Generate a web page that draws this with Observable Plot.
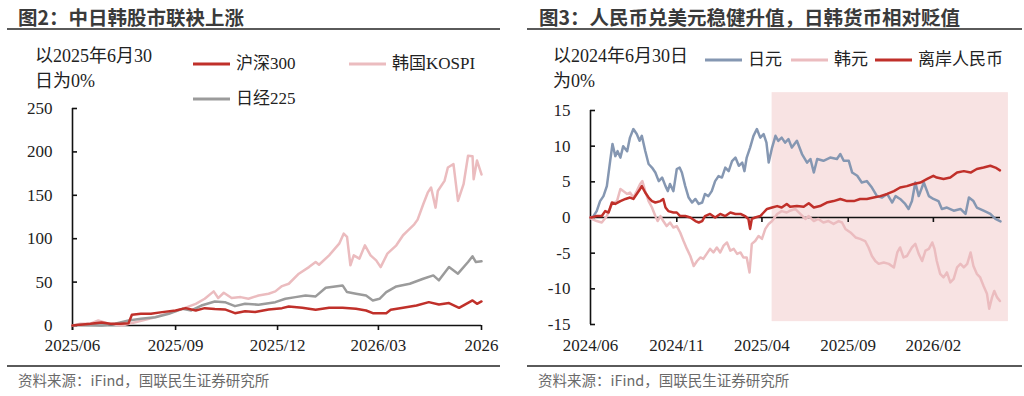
<!DOCTYPE html>
<html>
<head>
<meta charset="utf-8">
<script src="https://cdn.jsdelivr.net/npm/d3@7"></script>
<script src="https://cdn.jsdelivr.net/npm/@observablehq/plot@0.6"></script>
<style>
  html, body { margin: 0; padding: 0; background: #fff; }
  body { position: relative; width: 1024px; height: 396px; overflow: hidden;
         font-family: "Liberation Serif", "Noto Sans CJK SC", serif; color: #222; }
  .title { position: absolute; top: 7px; font: bold 19.5px/19.5px "Noto Sans CJK SC", sans-serif;
           color: #3a3a3a; white-space: nowrap; }
  .rule { position: absolute; height: 2px; background: #5a5a5a; }
  .src { position: absolute; top: 372px; font: 14.5px/15px "Noto Sans CJK SC", sans-serif;
         color: #6a6a6a; white-space: nowrap; }
  .unit { position: absolute; top: 44px; font-size: 18px; line-height: 25px; white-space: nowrap; }
  .leg { position: absolute; display: flex; align-items: center; font-size: 17px;
         line-height: 20px; white-space: nowrap; }
  .leg svg { margin-right: 6px; }
  .plot { position: absolute; top: 100px; }
</style>
</head>
<body>
<div class="title" style="left:18px">图2：中日韩股市联袂上涨</div>
<div class="rule" style="left:7px;width:493px;top:28px"></div>
<div class="title" style="left:539px">图3：人民币兑美元稳健升值，日韩货币相对贬值</div>
<div class="rule" style="left:527px;width:495px;top:28px"></div>

<div class="unit" style="left:35px">以2025年6月30<br>日为0%</div>
<div class="unit" style="left:553px">以2024年6月30日<br>为0%</div>

<div id="left" class="plot" style="left:0"></div>
<div id="right" class="plot" style="left:512px"></div>

<div class="rule" style="left:7px;width:493px;top:365px"></div>
<div class="src" style="left:18px">资料来源：iFind，国联民生证券研究所</div>
<div class="rule" style="left:527px;width:495px;top:365px"></div>
<div class="src" style="left:538px">资料来源：iFind，国联民生证券研究所</div>

<script>
// ---------- 图2: equity indices, % change since 2025-06-30 ----------
const hs300 = [
  ["2025-06-30",0],["2025-07-07",1],["2025-07-16",2],["2025-07-26",3.5],["2025-08-03",2],
  ["2025-08-12",2],["2025-08-19",2.5],["2025-08-22",12.3],["2025-08-30",13.5],["2025-09-08",13.5],
  ["2025-09-18",15.4],["2025-09-30",17.3],["2025-10-09",20],["2025-10-18",17.3],["2025-10-26",20],
  ["2025-11-04",19],["2025-11-13",18.5],["2025-11-22",14.2],["2025-12-01",16.5],["2025-12-10",15.5],
  ["2025-12-22",18.5],["2026-01-03",20],["2026-01-09",21.9],["2026-01-21",20.4],["2026-02-02",18.1],
  ["2026-02-14",20.4],["2026-02-26",20.4],["2026-03-10",19.2],["2026-03-19",17.3],["2026-03-25",14.2],
  ["2026-04-06",14.2],["2026-04-10",18.1],["2026-04-21",20.4],["2026-05-03",23.1],["2026-05-14",26.9],
  ["2026-05-23",24.2],["2026-06-01",25.8],["2026-06-10",20.4],["2026-06-22",28.9],["2026-06-26",25],
  ["2026-06-30",27.7]
];
const kospi = [
  ["2025-06-30",0],["2025-07-07",2],["2025-07-16",2],["2025-07-23",5.8],["2025-08-01",2],
  ["2025-08-13",0],["2025-08-25",3.8],["2025-09-09",8.5],["2025-09-24",14.6],["2025-10-06",19.2],
  ["2025-10-18",25],["2025-10-26",30.8],["2025-11-03",39.3],["2025-11-07",31.6],["2025-11-12",37.7],
  ["2025-11-19",31.6],["2025-11-27",32.7],["2025-12-04",30.8],["2025-12-13",34.6],["2025-12-22",36.6],
  ["2025-12-28",39.3],["2026-01-03",45.4],["2026-01-09",48.1],["2026-01-18",59.7],["2026-01-27",67.3],
  ["2026-02-02",73.1],["2026-02-05",70],["2026-02-14",80.8],["2026-02-23",94.3],["2026-02-27",105.8],
  ["2026-03-02",102],["2026-03-05",69.3],["2026-03-08",80.8],["2026-03-13",77],["2026-03-18",92.4],
  ["2026-03-23",80.8],["2026-03-28",75],["2026-04-01",67.3],["2026-04-07",82.8],["2026-04-15",92.4],
  ["2026-04-21",104],["2026-04-25",109],["2026-05-01",116.6],["2026-05-04",122],["2026-05-09",139.7],
  ["2026-05-13",153],["2026-05-16",159],["2026-05-20",135.8],["2026-05-22",155],["2026-05-28",166.6],
  ["2026-05-31",182],["2026-06-05",186],["2026-06-09",143.5],["2026-06-14",162.8],["2026-06-18",195.5],
  ["2026-06-22",195],["2026-06-23",168.6],["2026-06-26",190],["2026-06-30",174]
];
const nikkei = [
  ["2025-06-30",0],["2025-07-07",1],["2025-07-16",0.5],["2025-07-26",0],["2025-08-07",2],
  ["2025-08-19",5.8],["2025-08-30",7.7],["2025-09-12",9.6],["2025-09-24",13.5],["2025-10-06",19.2],
  ["2025-10-14",17.3],["2025-10-23",23],["2025-11-04",27.7],["2025-11-13",26.9],["2025-11-22",22.3],
  ["2025-12-01",25],["2025-12-13",24],["2025-12-28",26.9],["2026-01-06",30.8],["2026-01-15",32.7],
  ["2026-01-24",34.6],["2026-02-02",33.5],["2026-02-11",43.5],["2026-02-26",46.2],["2026-03-02",38.5],
  ["2026-03-10",36.6],["2026-03-19",34.6],["2026-03-25",28.9],["2026-03-31",30.8],["2026-04-06",38.5],
  ["2026-04-15",45],["2026-04-27",48.1],["2026-05-09",53.9],["2026-05-18",57.7],["2026-05-23",52],
  ["2026-06-01",67.3],["2026-06-09",59.7],["2026-06-18",73.1],["2026-06-22",79.7],["2026-06-25",73.1],
  ["2026-06-30",74]
];
const leftNames = ["沪深300", "韩国KOSPI", "日经225"];
const leftColors = ["#c0302a", "#ebbcbf", "#9b9b9b"];
const leftDomain = ["2025-06-30", "2026-06-30"];
const leftTickDates = ["2025-06-30", "2025-09-30", "2025-12-30", "2026-03-30", "2026-06-30"];
const leftTickLabels = ["2025/06", "2025/09", "2025/12", "2026/03", "2026"];
const leftYTicks = [0, 50, 100, 150, 200, 250];

// ---------- 图3: currencies vs USD, % change since 2024-06-30 ----------
const jpy = [
  ["2024-06-30",0],["2024-07-02",-0.2],["2024-07-11",0.9],["2024-07-17",2.3],["2024-07-23",3.0],
  ["2024-07-29",4.4],["2024-08-04",8.0],["2024-08-08",10.3],["2024-08-13",8.6],["2024-08-17",9.3],
  ["2024-08-22",8.4],["2024-08-27",10.0],["2024-09-03",9.3],["2024-09-08",11.2],["2024-09-14",12.4],
  ["2024-09-20",11.7],["2024-09-25",10.75],["2024-09-29",11.45],["2024-10-05",9.35],["2024-10-11",7.5],
  ["2024-10-17",7.0],["2024-10-23",6.3],["2024-10-29",5.1],["2024-11-04",5.6],["2024-11-10",4.4],
  ["2024-11-14",3.7],["2024-11-18",4.7],["2024-11-24",3.7],["2024-11-30",6.8],["2024-12-05",7.0],
  ["2024-12-09",6.3],["2024-12-15",4.4],["2024-12-21",2.8],["2024-12-27",2.1],["2025-01-02",2.6],
  ["2025-01-08",1.9],["2025-01-14",2.1],["2025-01-19",3.3],["2025-01-25",3.0],["2025-01-31",3.7],
  ["2025-02-06",5.1],["2025-02-12",5.8],["2025-02-18",5.6],["2025-02-24",7.0],["2025-03-02",6.5],
  ["2025-03-08",7.9],["2025-03-14",8.4],["2025-03-20",7.25],["2025-03-26",7.7],["2025-03-30",6.5],
  ["2025-04-03",8.4],["2025-04-09",9.8],["2025-04-15",11.45],["2025-04-21",12.4],["2025-04-27",11.2],
  ["2025-05-03",11.7],["2025-05-08",10.5],["2025-05-12",7.7],["2025-05-18",9.8],["2025-05-24",11.45],
  ["2025-05-29",10.75],["2025-06-04",11.2],["2025-06-10",10.5],["2025-06-16",11.0],["2025-06-22",9.8],
  ["2025-07-01",10.75],["2025-07-10",8.9],["2025-07-19",7.7],["2025-07-25",8.2],["2025-07-31",6.3],
  ["2025-08-06",8.2],["2025-08-17",7.95],["2025-08-29",8.4],["2025-09-10",8.2],["2025-09-16",8.9],
  ["2025-09-22",7.95],["2025-10-01",7.95],["2025-10-07",6.3],["2025-10-16",5.85],["2025-10-24",4.9],
  ["2025-11-02",5.1],["2025-11-11",4.2],["2025-11-20",3.0],["2025-11-29",2.8],["2025-12-08",3.3],
  ["2025-12-17",2.1],["2025-12-23",3.0],["2025-12-31",2.6],["2026-01-09",1.9],["2026-01-15",1.2],
  ["2026-01-21",2.3],["2026-01-27",4.9],["2026-02-02",3.0],["2026-02-11",4.9],["2026-02-20",3.0],
  ["2026-02-28",2.6],["2026-03-09",2.3],["2026-03-15",1.2],["2026-03-24",1.4],["2026-04-05",0.95],
  ["2026-04-17",1.2],["2026-04-26",0.5],["2026-05-02",2.8],["2026-05-10",2.3],["2026-05-16",1.4],
  ["2026-05-28",0.95],["2026-06-09",0.5],["2026-06-18",-0.2],["2026-06-27",-0.55]
];
const krw = [
  ["2024-06-30",0],["2024-07-02",-0.2],["2024-07-11",-0.5],["2024-07-20",-0.7],["2024-07-29",0.2],
  ["2024-08-07",1.9],["2024-08-16",2.3],["2024-08-22",4.0],["2024-08-27",3.7],["2024-09-03",3.3],
  ["2024-09-08",3.5],["2024-09-14",2.8],["2024-09-20",3.7],["2024-09-26",4.7],["2024-09-30",5.1],
  ["2024-10-05",3.7],["2024-10-11",2.3],["2024-10-17",1.4],["2024-10-23",0.2],["2024-10-27",-0.5],
  ["2024-11-01",0.2],["2024-11-06",-0.5],["2024-11-12",-1.2],["2024-11-18",-0.7],["2024-11-24",-1.4],
  ["2024-11-30",-1.2],["2024-12-06",-2.1],["2024-12-12",-3.3],["2024-12-18",-4.4],["2024-12-24",-5.4],
  ["2024-12-30",-6.8],["2025-01-05",-6.1],["2025-01-11",-5.6],["2025-01-16",-5.8],["2025-01-22",-5.1],
  ["2025-01-28",-4.4],["2025-02-03",-4.9],["2025-02-09",-4.2],["2025-02-15",-4.9],["2025-02-21",-3.95],
  ["2025-02-27",-3.5],["2025-03-05",-4.65],["2025-03-11",-4.4],["2025-03-17",-5.1],["2025-03-23",-4.9],
  ["2025-03-28",-5.6],["2025-04-03",-5.6],["2025-04-08",-7.7],["2025-04-12",-3.7],["2025-04-18",-3.3],
  ["2025-04-24",-2.6],["2025-04-30",-3.0],["2025-05-06",-1.6],["2025-05-12",-0.9],["2025-05-18",-0.5],
  ["2025-05-27",0.5],["2025-06-04",0.9],["2025-06-13",0.7],["2025-06-19",0.95],["2025-06-28",1.2],
  ["2025-07-07",0.5],["2025-07-16",-0.2],["2025-07-22",0.2],["2025-07-31",-0.5],["2025-08-08",-0.2],
  ["2025-08-17",-0.7],["2025-08-26",-0.5],["2025-09-04",-0.9],["2025-09-13",-0.5],["2025-09-19",-0.7],
  ["2025-09-25",-1.6],["2025-10-04",-2.1],["2025-10-13",-2.8],["2025-10-21",-3.0],["2025-10-30",-3.3],
  ["2025-11-05",-4.2],["2025-11-11",-5.4],["2025-11-17",-6.1],["2025-11-23",-6.5],["2025-12-02",-6.3],
  ["2025-12-11",-6.5],["2025-12-20",-7.0],["2025-12-26",-4.9],["2025-12-31",-4.2],["2026-01-06",-5.6],
  ["2026-01-12",-5.4],["2026-01-21",-4.2],["2026-01-27",-3.7],["2026-02-02",-5.1],["2026-02-08",-6.1],
  ["2026-02-14",-4.65],["2026-02-20",-4.4],["2026-02-26",-3.5],["2026-03-02",-4.4],["2026-03-06",-6.1],
  ["2026-03-12",-7.9],["2026-03-18",-8.4],["2026-03-24",-7.7],["2026-03-30",-9.1],["2026-04-05",-8.6],
  ["2026-04-11",-7.0],["2026-04-17",-6.5],["2026-04-23",-7.0],["2026-04-29",-6.5],["2026-05-05",-4.9],
  ["2026-05-10",-6.8],["2026-05-16",-7.9],["2026-05-22",-8.4],["2026-05-28",-9.6],["2026-06-03",-10.7],
  ["2026-06-07",-12.8],["2026-06-12",-11.2],["2026-06-16",-10.3],["2026-06-21",-11.2],["2026-06-26",-11.7]
];
const cnh = [
  ["2024-06-30",0],["2024-07-02",0],["2024-07-11",0.2],["2024-07-20",0.2],["2024-07-26",0.9],
  ["2024-08-01",0.7],["2024-08-07",2.1],["2024-08-13",1.9],["2024-08-22",2.3],["2024-08-31",2.6],
  ["2024-09-08",2.8],["2024-09-14",2.6],["2024-09-20",3.3],["2024-09-26",4.0],["2024-09-29",4.4],
  ["2024-10-05",3.5],["2024-10-11",2.8],["2024-10-17",2.3],["2024-10-23",2.1],["2024-11-01",2.3],
  ["2024-11-06",2.6],["2024-11-10",1.4],["2024-11-15",0.9],["2024-11-24",0.7],["2024-11-30",0.7],
  ["2024-12-06",0.2],["2024-12-15",0.2],["2024-12-24",0],["2025-01-02",-0.5],["2025-01-08",-0.7],
  ["2025-01-14",-0.5],["2025-01-19",0.2],["2025-01-28",0.5],["2025-02-06",0],["2025-02-15",0.5],
  ["2025-02-24",0.2],["2025-03-05",0.7],["2025-03-14",0.5],["2025-03-23",0.5],["2025-03-31",0.2],
  ["2025-04-06",-0.2],["2025-04-09",-1.6],["2025-04-12",-0.2],["2025-04-18",0],["2025-04-27",0.2],
  ["2025-05-03",0.7],["2025-05-09",1.2],["2025-05-18",1.4],["2025-05-27",1.6],["2025-06-04",1.4],
  ["2025-06-13",1.9],["2025-06-19",1.5],["2025-07-01",1.6],["2025-07-13",1.5],["2025-07-22",2.0],
  ["2025-07-31",1.4],["2025-08-11",1.6],["2025-08-23",2.1],["2025-09-04",2.3],["2025-09-16",2.6],
  ["2025-09-28",2.3],["2025-10-10",2.3],["2025-10-21",2.6],["2025-11-02",2.6],["2025-11-14",2.8],
  ["2025-11-26",3.0],["2025-12-08",3.3],["2025-12-20",3.7],["2025-12-31",4.2],["2026-01-12",4.4],
  ["2026-01-24",4.7],["2026-02-05",4.9],["2026-02-17",5.4],["2026-02-28",5.85],["2026-03-06",5.6],
  ["2026-03-18",5.4],["2026-03-30",5.6],["2026-04-11",6.3],["2026-04-23",6.5],["2026-05-05",6.3],
  ["2026-05-16",6.8],["2026-05-28",7.0],["2026-06-09",7.25],["2026-06-18",7.0],["2026-06-26",6.6]
];
const rightNames = ["日元", "韩元", "离岸人民币"];
const rightColors = ["#8597b2", "#ebbcbf", "#c0302a"];
const rightDomain = ["2024-06-30", "2026-06-27"];
const rightTickDates = ["2024-06-30", "2024-11-30", "2025-04-30", "2025-09-30", "2026-02-28"];
const rightTickLabels = ["2024/06", "2024/11", "2025/04", "2025/09", "2026/02"];
const rightYTicks = [-15, -10, -5, 0, 5, 10, 15];
// highlighted period (dates and value span of the shaded band)
const shadeDates = ["2025-05-18", "2026-07-11"];
const shadeValues = [-14.6, 17.5];
const shadeColor = "#f8e3e3";

// ---------- helpers ----------
const parse = d3.utcParse("%Y-%m-%d");
const toRows = (pairs) => pairs.map(([d, v]) => ({date: parse(d), value: v}));
const axisColor = "#111";
const fontStack = '"Liberation Serif", "Noto Sans CJK SC", serif';
const lineOpts = (color) => ({x: "date", y: "value", stroke: color, strokeWidth: 2.5,
                              strokeLinejoin: "round", strokeLinecap: "round"});

function legend(parent, items) {
  for (const it of items) {
    const el = document.createElement("div");
    el.className = "leg";
    el.style.left = it.left + "px";
    el.style.top = it.top + "px";
    el.innerHTML = `<svg width="37" height="4"><line x1="0" y1="2" x2="37" y2="2" stroke="${it.color}" stroke-width="3"/></svg><span>${it.name}</span>`;
    parent.appendChild(el);
  }
}

// ---------- left chart ----------
{
  const ticks = leftTickDates.map(parse);
  const x0 = parse(leftDomain[0]);
  const label = (d) => leftTickLabels[ticks.findIndex((t) => +t === +d)];
  const chart = Plot.plot({
    width: 512, height: 260,
    marginLeft: 72, marginRight: 31, marginTop: 8, marginBottom: 35,
    style: {fontFamily: fontStack, fontSize: "17px", color: "#222", background: "transparent", overflow: "visible"},
    x: {type: "utc", domain: leftDomain.map(parse), axis: null},
    y: {domain: [0, 250], axis: null},
    marks: [
      Plot.ruleY([0], {stroke: axisColor, strokeWidth: 1.6}),
      Plot.ruleX([x0], {stroke: axisColor, strokeWidth: 1.6, insetBottom: -5}),
      Plot.ruleY(leftYTicks, {x1: x0, x2: x0, insetRight: -5, stroke: axisColor, strokeWidth: 1.6}),
      Plot.ruleX(ticks, {y1: 0, y2: 0, insetBottom: -5, stroke: axisColor, strokeWidth: 1.6}),
      Plot.lineY(toRows(kospi), lineOpts(leftColors[1])),
      Plot.lineY(toRows(nikkei), lineOpts(leftColors[2])),
      Plot.lineY(toRows(hs300), lineOpts(leftColors[0])),
      Plot.axisY({ticks: leftYTicks, tickSize: 0, tickPadding: 20, label: null, tickFormat: (d) => String(d)}),
      Plot.axisX({ticks, tickSize: 0, tickPadding: 13, label: null, tickFormat: label})
    ]
  });
  document.getElementById("left").appendChild(chart);
  legend(document.body, [
    {name: leftNames[0], color: leftColors[0], left: 193, top: 54},
    {name: leftNames[1], color: leftColors[1], left: 349, top: 54},
    {name: leftNames[2], color: leftColors[2], left: 193, top: 89}
  ]);
}

// ---------- right chart ----------
{
  const ticks = rightTickDates.map(parse);
  const x0 = parse(rightDomain[0]);
  const label = (d) => rightTickLabels[ticks.findIndex((t) => +t === +d)];
  const chart = Plot.plot({
    width: 512, height: 260,
    marginLeft: 78, marginRight: 24, marginTop: 10, marginBottom: 36,
    style: {fontFamily: fontStack, fontSize: "17px", color: "#222", background: "transparent", overflow: "visible"},
    x: {type: "utc", domain: rightDomain.map(parse), axis: null},
    y: {domain: [-15, 15], axis: null},
    marks: [
      Plot.rect([{x1: parse(shadeDates[0]), x2: parse(shadeDates[1]), y1: shadeValues[0], y2: shadeValues[1]}],
                {x1: "x1", x2: "x2", y1: "y1", y2: "y2", fill: shadeColor}),
      Plot.ruleY([0], {stroke: axisColor, strokeWidth: 1.6}),
      Plot.ruleX([x0], {stroke: axisColor, strokeWidth: 1.6}),
      Plot.ruleY(rightYTicks, {x1: x0, x2: x0, insetRight: -5, stroke: axisColor, strokeWidth: 1.6}),
      Plot.ruleX(ticks.slice(1), {y1: 0, y2: 0, insetBottom: -5, stroke: axisColor, strokeWidth: 1.6}),
      Plot.lineY(toRows(jpy), lineOpts(rightColors[0])),
      Plot.lineY(toRows(krw), lineOpts(rightColors[1])),
      Plot.lineY(toRows(cnh), lineOpts(rightColors[2])),
      Plot.axisY({ticks: rightYTicks, tickSize: 0, tickPadding: 20, label: null, tickFormat: (d) => String(d)}),
      Plot.axisX({ticks, tickSize: 0, tickPadding: 14, label: null, tickFormat: label})
    ]
  });
  document.getElementById("right").appendChild(chart);
  legend(document.body, [
    {name: rightNames[0], color: rightColors[0], left: 705, top: 50},
    {name: rightNames[1], color: rightColors[1], left: 791, top: 50},
    {name: rightNames[2], color: rightColors[2], left: 875, top: 50}
  ]);
}
</script>
</body>
</html>
